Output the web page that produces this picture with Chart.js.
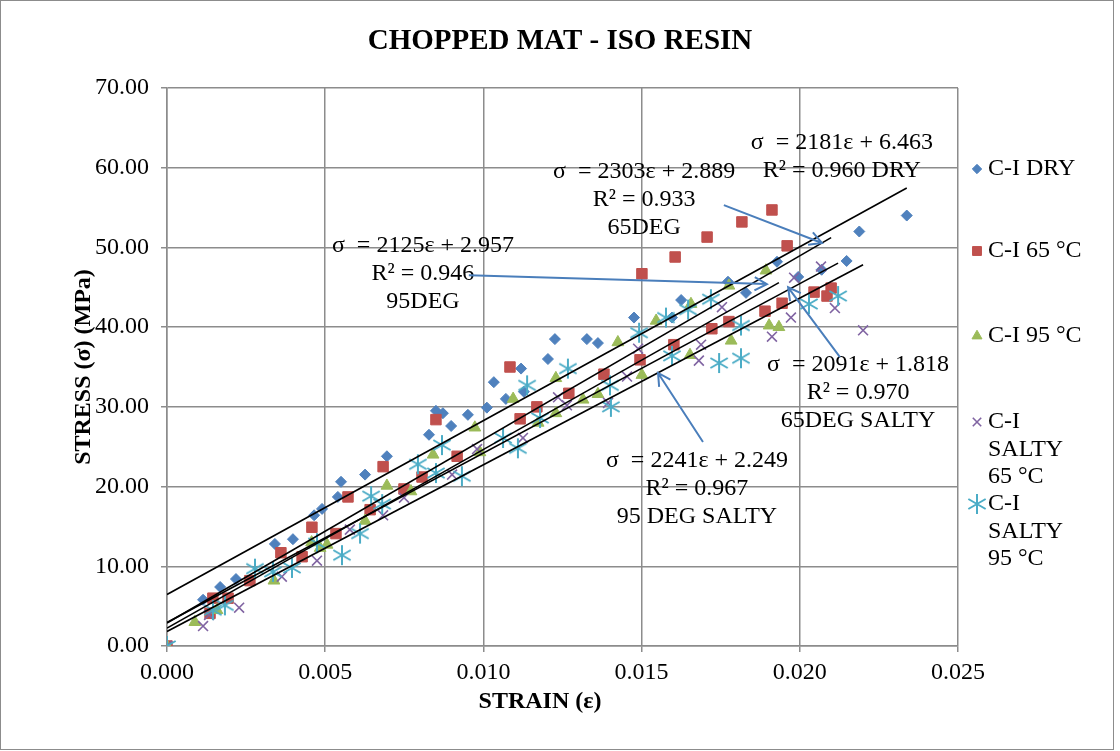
<!DOCTYPE html>
<html>
<head>
<meta charset="utf-8">
<script src="https://cdn.jsdelivr.net/npm/chart.js@4.4.1/dist/chart.umd.min.js"></script>
<style>
  body { margin: 0; background: #fff; }
  canvas { display: block; }
</style>
</head>
<body>
<canvas id="myChart" width="1120" height="751"></canvas>
<script>
// data: strain (x) and stress in MPa (y)
const dryStrain = [0, 0.00114, 0.00168, 0.00218, 0.00341, 0.00398, 0.00465, 0.0049, 0.0054, 0.0055, 0.00626, 0.00695,
  0.00828, 0.0085, 0.00872, 0.00898, 0.00951, 0.01011, 0.01033, 0.01071, 0.01119, 0.01128, 0.01204, 0.01226, 0.01327,
  0.01362, 0.01476, 0.01596, 0.01625, 0.01773, 0.0183, 0.01928, 0.01995, 0.02069, 0.02148, 0.02188, 0.02338];
const dryStress = [0, 5.8, 7.4, 8.4, 12.8, 13.4, 16.4, 17.2, 18.7, 20.6, 21.5, 23.8,
  26.5, 29.5, 29.2, 27.6, 29.0, 29.9, 33.1, 31.0, 34.8, 31.9, 36.0, 38.5, 38.5,
  38.0, 41.2, 41.2, 43.4, 45.7, 44.3, 48.2, 46.3, 47.2, 48.3, 52.0, 54.0];

const c65Strain = [0, 0.00136, 0.00145, 0.00193, 0.00262, 0.0036, 0.00427, 0.00458, 0.00534, 0.00572, 0.00642, 0.00683,
  0.00749, 0.00806, 0.0085, 0.00917, 0.01084, 0.01116, 0.01169, 0.0127, 0.01381, 0.01495, 0.01501, 0.01602, 0.01606,
  0.01707, 0.01722, 0.01776, 0.01817, 0.0189, 0.01912, 0.01944, 0.0196, 0.02045, 0.02086, 0.02099];
const c65Stress = [0, 4.1, 6.0, 6.0, 8.2, 11.7, 11.2, 14.9, 14.1, 18.7, 17.1, 22.5,
  19.7, 21.2, 28.4, 23.8, 35.0, 28.5, 30.0, 31.7, 34.1, 35.9, 46.7, 37.8, 48.8,
  51.3, 39.8, 40.7, 53.2, 42.0, 54.7, 43.0, 50.2, 44.4, 43.9, 44.9];

const c95Strain = [0, 0.00088, 0.00158, 0.00338, 0.00457, 0.00484, 0.00506, 0.00626, 0.00695, 0.00771, 0.00841, 0.00973,
  0.00989, 0.01094, 0.01173, 0.01229, 0.01229, 0.01315, 0.01362, 0.01425, 0.01501, 0.01546, 0.01653, 0.01656,
  0.01776, 0.01783, 0.01893, 0.01903, 0.01934];
const c95Stress = [0, 3.0, 4.5, 8.2, 13.0, 12.3, 12.7, 15.7, 20.1, 19.4, 24.0, 27.4,
  24.3, 31.0, 28.0, 33.6, 29.2, 30.9, 31.6, 38.1, 34.0, 40.8, 36.5, 42.9,
  45.2, 38.3, 47.1, 40.2, 40.0];

const salty65Strain = [0, 0.00114, 0.00133, 0.00228, 0.00363, 0.00474, 0.00578, 0.00683, 0.00749, 0.00901, 0.0098,
  0.01125, 0.01236, 0.01264, 0.01394, 0.01454, 0.01489, 0.01681, 0.01688, 0.01754, 0.01912, 0.01972, 0.01982,
  0.02067, 0.02111, 0.022];
const salty65Stress = [0, 2.5, 3.9, 4.8, 8.7, 10.7, 14.6, 16.4, 18.6, 21.5, 24.7,
  26.1, 31.2, 30.2, 30.5, 33.8, 37.3, 35.8, 37.8, 42.5, 38.8, 41.2, 46.2,
  47.6, 42.4, 39.6];

const salty95Strain = [0, 0.00145, 0.00183, 0.00278, 0.00335, 0.00395, 0.00474, 0.00553, 0.0061, 0.00645, 0.0068,
  0.00793, 0.0085, 0.00869, 0.00932, 0.01062, 0.01109, 0.01138, 0.01179, 0.01267, 0.014, 0.01403, 0.01492,
  0.01577, 0.01596, 0.01647, 0.01719, 0.01745, 0.01814, 0.01814, 0.02029, 0.02121];
const salty95Stress = [0, 4.5, 5.1, 9.7, 9.3, 9.8, 12.9, 11.4, 14.1, 18.8, 17.8,
  22.8, 21.7, 25.2, 21.3, 26.1, 24.8, 32.7, 28.6, 34.8, 32.7, 30.0, 39.3,
  41.2, 36.4, 42.2, 43.5, 35.5, 36.1, 40.2, 42.9, 43.9];

const seriesNames = ['C-I DRY', 'C-I 65 °C', 'C-I 95 °C', 'C-I SALTY 65 °C', 'C-I SALTY 95 °C'];

// linear trendlines as printed on the chart
const trendSlopes = [2181, 2303, 2125, 2091, 2241];
const trendIntercepts = [6.463, 2.889, 2.957, 1.818, 2.249];
const trendR2 = ['0.960', '0.933', '0.946', '0.970', '0.967'];
const trendTags = ['DRY', '65DEG', '95DEG', '65DEG SALTY', '95 DEG SALTY'];
const trendEnds = [0.02338, 0.02099, 0.02121, 0.022, 0.01934];

const xTicks = [0, 0.005, 0.01, 0.015, 0.02, 0.025];
const yTicks = [0, 10, 20, 30, 40, 50, 60, 70];

const FONT = 'Liberation Serif, Times New Roman, serif';
const GRID = '#8c8c8c';
const ARROW = '#4a7ebb';

function pairs(xs, ys) {
  return xs.map((x, i) => ({ x, y: ys[i] }));
}

function makeAsterisk(color) {
  const c = document.createElement('canvas');
  c.width = 22;
  c.height = 22;
  const g = c.getContext('2d');
  g.strokeStyle = color;
  g.lineWidth = 2;
  g.translate(11, 11);
  g.beginPath();
  for (let k = 0; k < 3; k++) {
    const a = Math.PI / 2 + k * Math.PI / 3;
    g.moveTo(Math.cos(a) * 10, Math.sin(a) * 10);
    g.lineTo(-Math.cos(a) * 10, -Math.sin(a) * 10);
  }
  g.stroke();
  return c;
}

const markers = [
  { color: '#4f81bd', style: 'rectRot', radius: 5.5 },
  { color: '#c0504d', style: 'rect', radius: 7.4 },
  { color: '#9bbb59', style: 'triangle', radius: 6.8 },
  { color: '#8064a2', style: 'crossRot', radius: 7 },
  { color: '#4bacc6', style: makeAsterisk('#4bacc6'), radius: 10 },
];

const seriesData = [
  pairs(dryStrain, dryStress),
  pairs(c65Strain, c65Stress),
  pairs(c95Strain, c95Stress),
  pairs(salty65Strain, salty65Stress),
  pairs(salty95Strain, salty95Stress),
];

const datasets = [];
trendSlopes.forEach((m, i) => {
  datasets.push({
    label: `trend ${trendTags[i]}`,
    data: [{ x: 0, y: trendIntercepts[i] }, { x: trendEnds[i], y: m * trendEnds[i] + trendIntercepts[i] }],
    showLine: true,
    borderColor: '#000',
    borderWidth: 1.6,
    pointRadius: 0,
    order: 1,
  });
});
seriesData.forEach((d, i) => {
  const mk = markers[i];
  datasets.push({
    label: seriesNames[i],
    data: d,
    pointStyle: mk.style,
    pointRadius: mk.radius,
    backgroundColor: mk.color,
    borderColor: mk.color,
    borderWidth: i === 3 ? 1.6 : 1,
    showLine: false,
    order: 6 - i,
  });
});

// text boxes and arrows, placed in data units
const annoAnchors = [
  { x: 0.02133, y: 63.2 },
  { x: 0.01508, y: 59.5 },
  { x: 0.00809, y: 50.2 },
  { x: 0.02184, y: 35.25 },
  { x: 0.01675, y: 23.2 },
];
const arrows = [
  [{ x: 0.0176, y: 55.3 }, { x: 0.0207, y: 50.56 }],
  [{ x: 0.00954, y: 46.5 }, { x: 0.01896, y: 45.4 }],
  [{ x: 0.02127, y: 36.25 }, { x: 0.01963, y: 45.0 }],
  [{ x: 0.01694, y: 25.6 }, { x: 0.01552, y: 34.25 }],
];
const legendRows = [169, 251, 336, 422, 504];

function annoLines(i) {
  const eq = `σ  = ${trendSlopes[i]}ε + ${trendIntercepts[i].toFixed(3)}`;
  if (i === 0) return [eq, `R² = ${trendR2[i]} ${trendTags[i]}`];
  return [eq, `R² = ${trendR2[i]}`, trendTags[i]];
}

function wrapWords(ctx, text, maxW) {
  const words = text.split(' ');
  const lines = [];
  let cur = '';
  words.forEach((w) => {
    const t = cur ? `${cur} ${w}` : w;
    if (cur && ctx.measureText(t).width > maxW) {
      lines.push(cur);
      cur = w;
    } else {
      cur = t;
    }
  });
  lines.push(cur);
  return lines;
}

const decorPlugin = {
  id: 'decor',
  afterDatasetsDraw(chart) {
    const { ctx } = chart;
    const xs = chart.scales.x;
    const ys = chart.scales.y;

    ctx.save();
    ctx.fillStyle = '#000';
    ctx.textAlign = 'center';
    ctx.textBaseline = 'middle';
    ctx.font = `24px ${FONT}`;
    annoAnchors.forEach((a, i) => {
      const px = xs.getPixelForValue(a.x);
      const py = ys.getPixelForValue(a.y);
      annoLines(i).forEach((line, k) => {
        ctx.fillText(line, px, py + k * 28);
      });
    });

    ctx.strokeStyle = ARROW;
    ctx.lineWidth = 2;
    arrows.forEach(([p, q]) => {
      const x1 = xs.getPixelForValue(p.x);
      const y1 = ys.getPixelForValue(p.y);
      const x2 = xs.getPixelForValue(q.x);
      const y2 = ys.getPixelForValue(q.y);
      const ang = Math.atan2(y2 - y1, x2 - x1);
      ctx.beginPath();
      ctx.moveTo(x1, y1);
      ctx.lineTo(x2, y2);
      ctx.moveTo(x2 - 14 * Math.cos(ang - 0.5), y2 - 14 * Math.sin(ang - 0.5));
      ctx.lineTo(x2, y2);
      ctx.lineTo(x2 - 14 * Math.cos(ang + 0.5), y2 - 14 * Math.sin(ang + 0.5));
      ctx.stroke();
    });
    ctx.restore();
  },
  afterDraw(chart) {
    const { ctx } = chart;
    ctx.save();
    ctx.fillStyle = '#000';
    ctx.textBaseline = 'middle';

    ctx.textAlign = 'center';
    ctx.font = `bold 29px ${FONT}`;
    ctx.fillText('CHOPPED MAT - ISO RESIN', 560, 42);

    ctx.font = `bold 24px ${FONT}`;
    ctx.fillText('STRAIN (ε)', 540, 702);
    ctx.save();
    ctx.translate(84, 367);
    ctx.rotate(-Math.PI / 2);
    ctx.fillText('STRESS (σ) (MPa)', 0, 0);
    ctx.restore();

    // legend
    ctx.font = `24px ${FONT}`;
    ctx.textAlign = 'left';
    seriesNames.forEach((name, i) => {
      const y = legendRows[i];
      const mk = markers[i];
      ctx.fillStyle = mk.color;
      ctx.strokeStyle = mk.color;
      ctx.lineWidth = i === 3 ? 1.6 : 1;
      Chart.helpers.drawPoint(ctx, { pointStyle: mk.style, radius: i === 4 ? 10 : mk.radius * 0.85, borderWidth: ctx.lineWidth, rotation: 0 }, 977, y);
      ctx.fillStyle = '#000';
      wrapWords(ctx, name, 100).forEach((line, k) => {
        ctx.fillText(line, 988, y + k * 27.5);
      });
    });

    // outer frame
    ctx.strokeStyle = '#8c8c8c';
    ctx.lineWidth = 1;
    ctx.strokeRect(0.5, 0.5, 1113, 749);
    ctx.restore();
  },
};

const chart = new Chart(document.getElementById('myChart').getContext('2d'), {
  type: 'scatter',
  data: { datasets },
  options: {
    responsive: false,
    animation: false,
    events: [],
    layout: { padding: { left: 0, right: 162, top: 88, bottom: 0 } },
    plugins: { legend: { display: false }, tooltip: { enabled: false } },
    scales: {
      x: {
        type: 'linear',
        min: 0,
        max: 0.025,
        afterBuildTicks: (s) => { s.ticks = xTicks.map((v) => ({ value: v })); },
        afterFit: (s) => { s.height = 105; },
        ticks: { callback: (v) => v.toFixed(3), color: '#000', font: { family: FONT, size: 24 }, padding: 6, maxRotation: 0 },
        grid: { color: GRID, lineWidth: 1.5, tickLength: 6 },
        border: { color: GRID, width: 1.5 },
      },
      y: {
        min: 0,
        max: 70,
        afterBuildTicks: (s) => { s.ticks = yTicks.map((v) => ({ value: v })); },
        afterFit: (s) => { s.width = 167; },
        ticks: { callback: (v) => v.toFixed(2), color: '#000', font: { family: FONT, size: 24 }, padding: 12 },
        grid: { color: GRID, lineWidth: 1.5, tickLength: 6 },
        border: { color: GRID, width: 1.5 },
      },
    },
  },
  plugins: [decorPlugin],
});
</script>
</body>
</html>
